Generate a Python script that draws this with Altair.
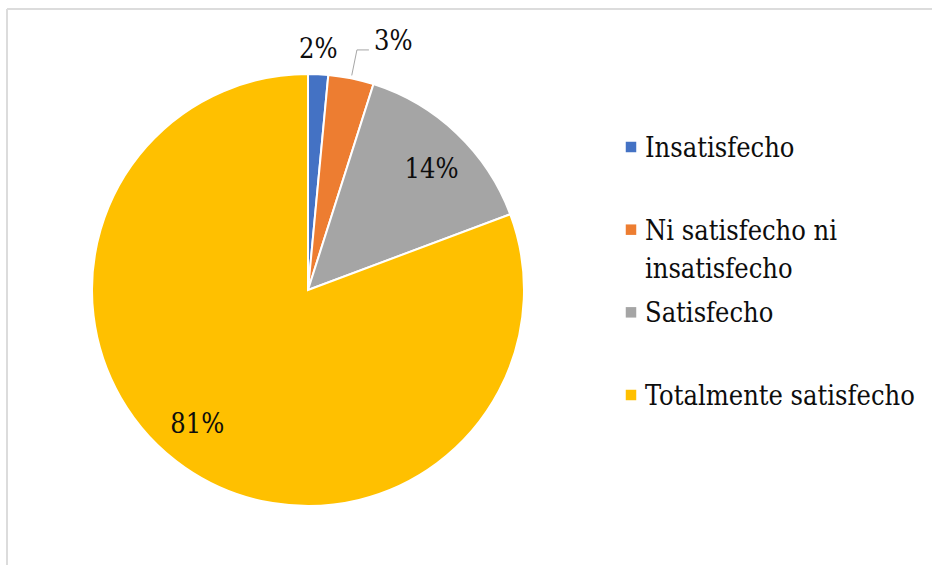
import altair as alt
import pandas as pd

# ---- data ----
categorias = ["Insatisfecho", "Ni satisfecho ni insatisfecho", "Satisfecho", "Totalmente satisfecho"]
valores = [1.5, 3.4, 14.4, 80.7]
etiquetas = ["2%", "3%", "14%", "81%"]
leyenda = ["Insatisfecho", "Ni satisfecho ni\ninsatisfecho", "Satisfecho", "Totalmente satisfecho"]
orden = [1, 2, 3, 4]
colores = ["#4472C4", "#ED7D31", "#A5A5A5", "#FFC000"]

df = pd.DataFrame({
    "categoria": categorias,
    "valor": valores,
    "etiqueta": etiquetas,
    "leyenda": leyenda,
    "orden": orden,
})

CX, CY, R = 308, 290, 216
FONT = "DejaVu Serif Condensed, DejaVu Serif"
FS = 27
TXT = "#0d0d0d"

color = alt.Color("categoria:N", scale=alt.Scale(domain=categorias, range=colores), legend=None)

base = alt.Chart(df)

pie = base.mark_arc(outerRadius=R, stroke="white", strokeWidth=2).encode(
    theta=alt.Theta("valor:Q", stack=True),
    order=alt.Order("orden:Q"),
    color=color,
    x=alt.value(CX),
    y=alt.value(CY),
)

angbase = base.transform_window(
    cum="sum(valor)", sort=[alt.SortField("orden")], frame=[None, 0]
).transform_joinaggregate(
    total="sum(valor)"
).transform_calculate(
    ang="2*PI*(datum.cum - datum.valor/2)/datum.total"
)


def label(o, rad, dx, dy, align="center"):
    return angbase.transform_filter(alt.datum.orden == o).transform_calculate(
        px=f"{CX} + {rad}*sin(datum.ang)",
        py=f"{CY} - {rad}*cos(datum.ang)",
    ).mark_text(font=FONT, fontSize=FS, color=TXT, align=align, baseline="middle",
                dx=dx, dy=dy).encode(
        x=alt.X("px:Q", scale=None),
        y=alt.Y("py:Q", scale=None),
        text="etiqueta:N",
    )


lab2 = label(1, 240, -1, 0)
lab14 = label(3, 172, 5, 5)
lab81 = label(4, 175, -11, -9)

lead = angbase.transform_filter(alt.datum.orden == 2).transform_calculate(
    x1=f"{CX} + 219*sin(datum.ang)",
    y1=f"{CY} - 219*cos(datum.ang)",
    x2=f"{CX} + 245*sin(datum.ang)",
    y2=f"{CY} - 245*cos(datum.ang)",
).transform_calculate(
    x3="datum.x2 + 12",
)
lead1 = lead.mark_rule(color="#a6a6a6", strokeWidth=1).encode(
    x=alt.X("x1:Q", scale=None), y=alt.Y("y1:Q", scale=None),
    x2="x2:Q", y2="y2:Q",
)
lead2 = lead.mark_rule(color="#a6a6a6", strokeWidth=1).encode(
    x=alt.X("x2:Q", scale=None), y=alt.Y("y2:Q", scale=None),
    x2="x3:Q", y2="y2:Q",
)
lab3 = lead.mark_text(font=FONT, fontSize=FS, color=TXT, align="left", baseline="middle",
                      dx=5, dy=-8).encode(
    x=alt.X("x3:Q", scale=None), y=alt.Y("y2:Q", scale=None), text="etiqueta:N",
)

ly = alt.Y("categoria:N", sort=categorias,
           scale=alt.Scale(type="point", range=[147, 395], padding=0), axis=None)
leg_sq = base.mark_square(size=110, opacity=1).encode(
    x=alt.value(631), y=ly, color=color,
)
leg_tx = base.mark_text(font=FONT, fontSize=FS, color=TXT, align="left",
                        baseline="alphabetic", dy=10, lineBreak="\n", lineHeight=38).encode(
    x=alt.value(645), y=ly, text="leyenda:N",
)

frame_top = base.mark_rule(color="#dcdcdc", strokeWidth=2).encode(
    x=alt.value(7), x2=alt.value(932), y=alt.value(9), y2=alt.value(9)
)
frame_left = base.mark_rule(color="#dcdcdc", strokeWidth=2).encode(
    x=alt.value(7), x2=alt.value(7), y=alt.value(9), y2=alt.value(565)
)

chart = alt.layer(
    frame_top, frame_left, pie, lead1, lead2, lab2, lab3, lab14, lab81, leg_sq, leg_tx
).properties(
    width=932, height=565, autosize="none", padding=0, background="white"
).configure_view(stroke=None)

chart.save("out.html", embed_options={"renderer": "svg", "actions": False})
